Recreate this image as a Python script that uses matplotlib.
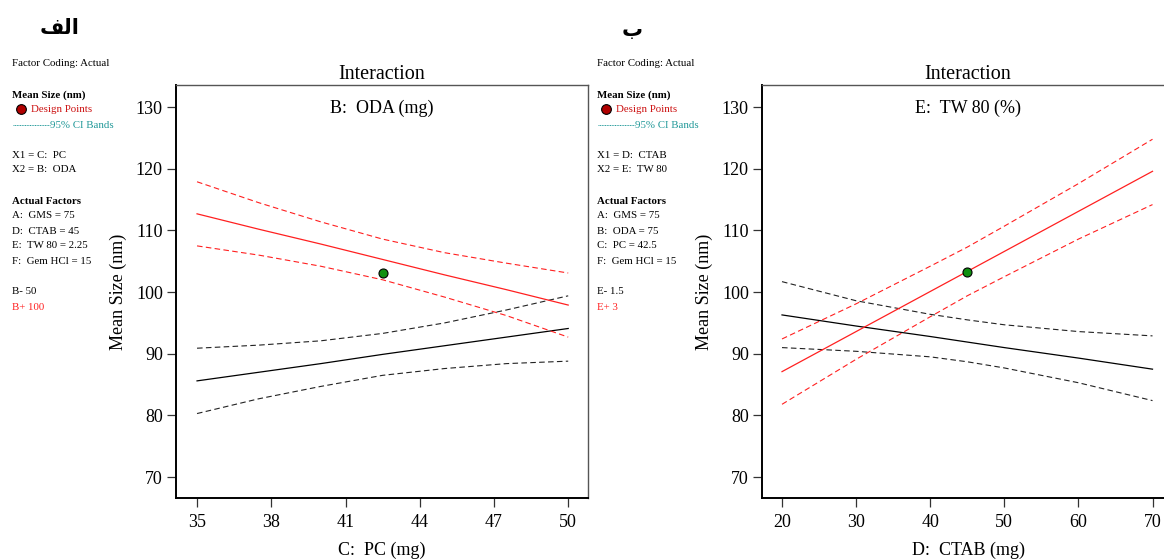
import matplotlib
matplotlib.use("Agg")
import matplotlib.pyplot as plt

plt.rcParams["font.family"] = ["Liberation Serif", "DejaVu Serif"]

# --- panel a: C: PC vs Mean Size, lines for B- 50 / B+ 100 ---
pc = [35, 37.5, 40, 42.5, 45, 47.5, 50]
pc_ticks = [35, 38, 41, 44, 47, 50]
b_lo_fit = [85.6, 87.0, 88.4, 89.9, 91.3, 92.7, 94.1]
b_lo_up = [90.9, 91.4, 92.1, 93.3, 95.0, 97.1, 99.4]
b_lo_dn = [80.3, 82.7, 84.7, 86.5, 87.6, 88.4, 88.8]
b_hi_fit = [112.7, 110.2, 107.8, 105.3, 102.8, 100.4, 97.9]
b_hi_up = [117.9, 114.5, 111.4, 108.6, 106.4, 104.7, 103.1]
b_hi_dn = [107.5, 106.0, 104.2, 102.0, 99.2, 96.2, 92.7]
pt_a = (42.5, 103.1)

# --- panel b: D: CTAB vs Mean Size, lines for E- 1.5 / E+ 3 ---
ctab = [20, 30, 40, 45, 50, 60, 70]
ctab_ticks = [20, 30, 40, 50, 60, 70]
e_lo_fit = [96.3, 94.5, 92.8, 91.9, 91.0, 89.3, 87.5]
e_lo_up = [101.7, 98.6, 96.4, 95.5, 94.7, 93.6, 92.9]
e_lo_dn = [91.0, 90.4, 89.5, 88.7, 87.7, 85.3, 82.4]
e_hi_fit = [87.1, 93.6, 100.1, 103.35, 106.6, 113.1, 119.6]
e_hi_up = [92.4, 98.1, 104.2, 107.3, 110.7, 117.6, 124.8]
e_hi_dn = [81.8, 89.1, 96.0, 99.4, 102.5, 108.6, 114.2]
pt_b = (45, 103.2)

y_ticks = [70, 80, 90, 100, 110, 120, 130]

side_a = ["X1 = C:  PC", "X2 = B:  ODA", None,
          "Actual Factors", "A:  GMS = 75", "D:  CTAB = 45",
          "E:  TW 80 = 2.25", "F:  Gem HCl = 15", None, "B- 50", "B+ 100"]
side_b = ["X1 = D:  CTAB", "X2 = E:  TW 80", None,
          "Actual Factors", "A:  GMS = 75", "B:  ODA = 75",
          "C:  PC = 42.5", "F:  Gem HCl = 15", None, "E- 1.5", "E+ 3"]

W, H = 1164, 560
fig = plt.figure(figsize=(W / 100, H / 100), dpi=100)

RED = "#ff2020"
DASH = (0, (5, 3))


def px(x, y):
    return x / W, 1 - y / H


def draw_panel(ax, x, fit_lo, up_lo, dn_lo, fit_hi, up_hi, dn_hi, pt,
               xlim, xticks, inner, xlabel):
    ax.plot(x, fit_lo, color="black", lw=0.9)
    ax.plot(x, up_lo, color="#222222", lw=0.8, ls=DASH)
    ax.plot(x, dn_lo, color="#222222", lw=0.8, ls=DASH)
    ax.plot(x, fit_hi, color=RED, lw=0.9)
    ax.plot(x, up_hi, color=RED, lw=0.8, ls=DASH)
    ax.plot(x, dn_hi, color=RED, lw=0.8, ls=DASH)
    ax.plot([pt[0]], [pt[1]], "o", ms=6.5, mfc="#109010", mec="black",
            mew=0.8, zorder=5)
    ax.set_xlim(*xlim)
    ax.set_ylim(66.6, 133.6)
    ax.set_xticks(xticks)
    ax.set_yticks(y_ticks)
    ax.tick_params(direction="out", length=6.5, width=0.9, labelsize=13,
                   color="#333333")
    ax.tick_params(axis="x", pad=5)
    ax.tick_params(axis="y", pad=3)
    for s in ["left", "bottom"]:
        ax.spines[s].set_linewidth(1.4)
        ax.spines[s].set_color("black")
    for s in ["top", "right"]:
        ax.spines[s].set_linewidth(1.0)
        ax.spines[s].set_color("#555555")
    ax.text(0.5, 0.965, inner, transform=ax.transAxes, ha="center",
            va="top", fontsize=13)
    ax.set_title("Interaction", fontsize=14.5, pad=4)
    ax.set_xlabel(xlabel, fontsize=13, labelpad=8)
    ax.set_ylabel("Mean Size (nm)", fontsize=13, labelpad=6)


ax1 = fig.add_axes([176 / W, 1 - 498 / H, 412 / W, 413 / H])
draw_panel(ax1, pc, b_lo_fit, b_lo_up, b_lo_dn, b_hi_fit, b_hi_up, b_hi_dn,
           pt_a, (34.15, 50.8), pc_ticks, "B:  ODA (mg)", "C:  PC (mg)")

ax2 = fig.add_axes([762 / W, 1 - 498 / H, 412 / W, 413 / H])
draw_panel(ax2, ctab, e_lo_fit, e_lo_up, e_lo_dn, e_hi_fit, e_hi_up, e_hi_dn,
           pt_b, (17.3, 72.9), ctab_ticks, "E:  TW 80 (%)", "D:  CTAB (mg)")


def side_text(x0, lines, hi_color):
    fs = 7.8
    fig.text(*px(x0, 64), "Factor Coding: Actual", fontsize=fs, va="center")
    fig.text(*px(x0, 95), "Mean Size (nm)", fontsize=fs, va="center",
             fontweight="bold")
    fig.lines.append(plt.Line2D([(x0 + 9) / W], [1 - 109 / H], marker="o",
                                ms=7, mfc="#b00000", mec="black", mew=0.8,
                                transform=fig.transFigure))
    fig.text(*px(x0 + 19, 110), "Design Points", fontsize=fs, va="center",
             color="#cc1010")
    fig.lines.append(plt.Line2D([(x0 + 1) / W, (x0 + 38) / W],
                                [1 - 125 / H, 1 - 125 / H], lw=0.7,
                                ls=(0, (1.0, 0.7)), color="#229999",
                                transform=fig.transFigure))
    fig.text(*px(x0 + 38, 125), "95% CI Bands", fontsize=fs, va="center",
             color="#229999")
    y = 155
    for ln in lines:
        if ln is None:
            y += 16
            continue
        kw = {}
        if ln == "Actual Factors":
            kw["fontweight"] = "bold"
        if ln == lines[-1]:
            kw["color"] = hi_color
        fig.text(*px(x0, y), ln, fontsize=fs, va="center", **kw)
        y += 15


side_text(12, side_a, "#ff2020")
side_text(597, side_b, "#ff2020")

# panel letters (Arabic, presentation forms in visual order)
fig.text(*px(60, 28), "\ufed2\ufedf\ufe8d", fontsize=15, fontweight="bold",
         ha="center", va="center", family=["DejaVu Sans"])
fig.text(*px(632, 30), "\ufe8f", fontsize=15, fontweight="bold",
         ha="center", va="center", family=["DejaVu Sans"])

fig.savefig("out.png", dpi=100)
